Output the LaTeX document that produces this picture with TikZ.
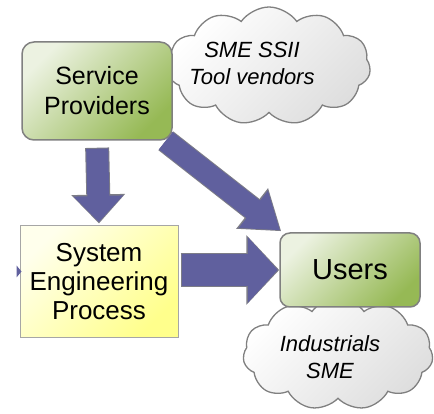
\documentclass[tikz,border=0pt]{standalone}
\usepackage{fontspec}
\setmainfont{Liberation Sans}
\usetikzlibrary{arrows.meta,positioning,shapes.symbols,calc,backgrounds}
\definecolor{arrowfill}{RGB}{96,96,158}
\definecolor{arrowline}{RGB}{125,125,135}
\definecolor{boxline}{RGB}{128,128,128}
\definecolor{greenlight}{RGB}{236,242,225}
\definecolor{greendark}{RGB}{150,185,85}
\definecolor{yellowlight}{RGB}{255,255,236}
\definecolor{yellowdark}{RGB}{255,255,140}
\definecolor{cloudgray}{RGB}{222,222,222}

\begin{document}
\begin{tikzpicture}[x=1pt, y=-1pt,
  green box/.style={rectangle,rounded corners=12pt,draw=boxline,line width=1.5pt,top color=greenlight,bottom color=greendark,shading angle=45,align=center},
  yellow box/.style={rectangle,draw=boxline!70,line width=1pt,top color=yellowlight,bottom color=yellowdark,shading angle=45,align=center},
  cloud box/.style={cloud,cloud puffs=11,cloud puff arc=110,aspect=1.8,draw=boxline,line width=1.3pt,top color=white,bottom color=cloudgray,shading angle=45,inner sep=0pt},
  cloud text/.style={align=center,font=\fontsize{22}{27}\selectfont\itshape}]
\useasboundingbox (0,0) rectangle (434,414);
% clouds
\node[cloud box,minimum width=203pt,minimum height=118pt] (vendors) at (269,66) {};
\node[cloud text] (vendorstext) at (252,63) {SME SSII\\Tool vendors};
\node[cloud box,minimum width=190pt,minimum height=112pt] (industry) at (338,354) {};
\node[cloud text] (industrytext) at (330,357) {Industrials\\SME};
% boxes
\node[green box,minimum width=150pt,minimum height=98pt,font=\fontsize{25}{30}\selectfont] (sp) at (97,91) {Service\\Providers};
\node[yellow box,minimum width=158pt,minimum height=111pt,font=\fontsize{26}{29}\selectfont] (se) at (99,281.5) {System\\Engineering\\Process};
\node[green box,rounded corners=10pt,minimum width=140pt,minimum height=74pt,font=\fontsize{29}{34}\selectfont] (us) at (350,270) {Users};
% arrows
\begin{scope}[on background layer]
\draw[arrowline,line width=24pt,shorten <=7pt,shorten >=2pt,-{Triangle[length=29pt,width=52pt]}] (sp.south) -- (se.north);
\draw[arrowfill,line width=22pt,shorten <=8pt,shorten >=3.5pt,-{Triangle[length=26pt,width=48pt]}] (sp.south) -- (se.north);
\draw[arrowline,line width=24pt,-{Triangle[length=37pt,width=49pt]}] ($(sp.south east)+(-7,0)$) -- ($(us.north west)+(2,-1)$);
\draw[arrowfill,line width=22pt,shorten >=1.5pt,-{Triangle[length=34pt,width=45pt]}] ($(sp.south east)+(-7,0)$) -- ($(us.north west)+(2,-1)$);
\draw[arrowline,line width=34pt,shorten <=2pt,-{Triangle[length=33pt,width=68pt]}] (se.east |- us.west) -- (us.west);
\draw[arrowfill,line width=32pt,shorten <=3pt,shorten >=1.5pt,-{Triangle[length=30pt,width=64pt]}] (se.east |- us.west) -- (us.west);
\end{scope}
\fill[arrowfill] ($(se.west)+(-3,-16)$) -- ++(5,6) -- ++(-5,6) -- cycle;
\end{tikzpicture}
\end{document}
